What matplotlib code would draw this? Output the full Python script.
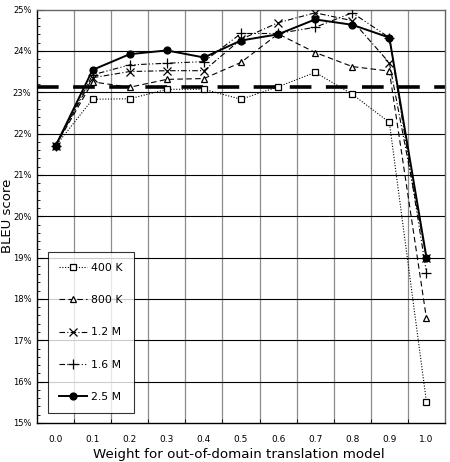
import matplotlib
matplotlib.use("Agg")
import matplotlib.pyplot as plt
import numpy as np

categories = ["0.0", "0.1", "0.2", "0.3", "0.4", "0.5", "0.6", "0.7", "0.8", "0.9", "1.0"]
s400k = [21.70, 22.83, 22.84, 23.07, 23.07, 22.83, 23.13, 23.48, 22.95, 22.27, 15.51]
s800k = [21.70, 23.25, 23.12, 23.31, 23.33, 23.72, 24.41, 23.96, 23.62, 23.51, 17.53]
s1_2m = [21.70, 23.35, 23.50, 23.52, 23.52, 24.28, 24.68, 24.92, 24.73, 23.71, 19.00]
s1_6m = [21.70, 23.42, 23.66, 23.70, 23.74, 24.42, 24.42, 24.57, 24.92, 24.32, 18.63]
s2_5m = [21.70, 23.54, 23.92, 24.01, 23.84, 24.25, 24.40, 24.76, 24.63, 24.32, 19.00]
baseline = 23.13
series_labels = ["400 K", "800 K", "1.2 M", "1.6 M", "2.5 M"]
yticks = [15, 16, 17, 18, 19, 20, 21, 22, 23, 24, 25]

fig = plt.figure(figsize=(4.5, 4.62), dpi=100)
ax = fig.add_axes([37/450, 1-423/462, 408/450, (423-9.5)/462])
x = np.arange(len(categories))

ax.set_xlim(-0.5, len(categories) - 0.5)
ax.set_ylim(15, 25)

# grid
for b in np.arange(0.5, len(categories) - 0.5, 1.0):
    ax.axvline(b, color="#8c8c8c", lw=0.9, zorder=1)
for v in yticks[1:-1]:
    ax.axhline(v, color="#000000", lw=0.8, zorder=1)

ax.axhline(baseline, color="black", lw=2.6, dashes=(6, 4), zorder=2)

styles = [
    dict(data=s400k, ls=(0, (1, 1.5)), marker="s", mfc="white", ms=4.5, lw=0.8),
    dict(data=s800k, ls=(0, (5, 3)), marker="^", mfc="white", ms=5, lw=0.8),
    dict(data=s1_2m, ls=(0, (5, 2, 1, 2)), marker="x", mfc="none", ms=6, lw=0.8),
    dict(data=s1_6m, ls=(0, (5, 2, 1, 2, 1, 2)), marker="+", mfc="none", ms=7, lw=0.8),
    dict(data=s2_5m, ls="-", marker="o", mfc="black", ms=5, lw=1.4),
]
handles = []
for st, lab in zip(styles, series_labels):
    h, = ax.plot(x, st["data"], color="black", ls=st["ls"], lw=st["lw"],
                 marker=st["marker"], mfc=st["mfc"], mec="black", ms=st["ms"],
                 mew=0.9, label=lab, zorder=3)
    handles.append(h)

ax.set_xticks(x)
ax.set_xticklabels(categories, fontsize=6.5)
ax.set_xticks(np.arange(0.5, len(categories) - 0.5, 1.0), minor=True)
ax.tick_params(axis="x", which="major", length=0, pad=9)
ax.tick_params(axis="x", which="minor", length=3, direction="in")
ax.set_yticks(yticks)
ax.set_yticklabels([f"{v}%" for v in yticks], fontsize=6)
ax.set_yticks(np.arange(15, 25.01, 0.2), minor=True)
ax.tick_params(axis="y", which="major", length=4, direction="in", pad=4)
ax.tick_params(axis="y", which="minor", length=2.5, direction="in")
for sp in ax.spines.values():
    sp.set_linewidth(1.0)
ax.spines["right"].set_color("#666666")
ax.spines["top"].set_color("#666666")

leg = ax.legend(handles=handles, loc="lower left", bbox_to_anchor=(0.027, 0.025),
                fontsize=7.8, frameon=True, fancybox=False, edgecolor="black",
                borderpad=1.0, labelspacing=2.05, handlelength=2.6, handletextpad=0.4,
                borderaxespad=0)
leg.get_frame().set_linewidth(0.8)

fig.text(0.017, 0.533, "BLEU score", rotation=90, fontsize=9.5, va="center", ha="center")
fig.text(0.53, 0.017, "Weight for out-of-domain translation model", fontsize=9.6,
         ha="center", va="center")

fig.savefig("out.png", dpi=100)
